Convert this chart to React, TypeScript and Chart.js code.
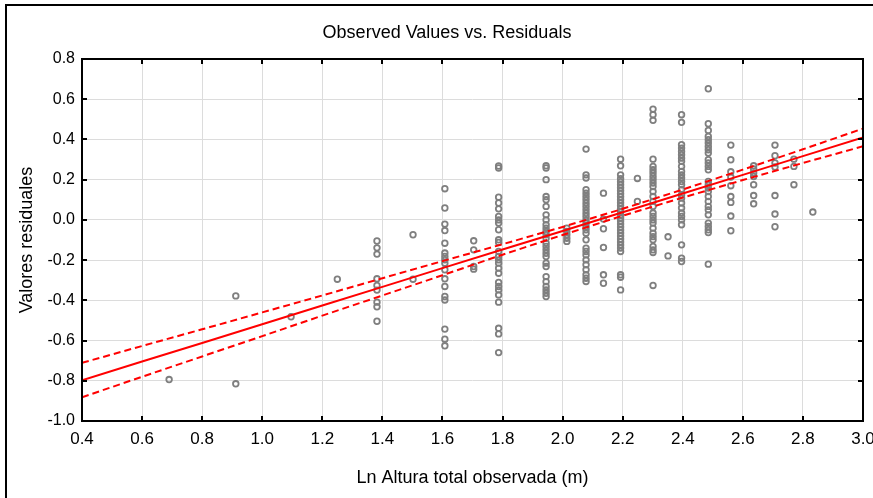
import React, { useEffect, useRef } from "react";
import { Chart, registerables } from "chart.js";

Chart.register(...registerables);

const chartTitle = "Observed Values vs. Residuals";
const xAxisTitle = "Ln Altura total observada (m)";
const yAxisTitle = "Valores residuales";

const xTicks = [0.4, 0.6, 0.8, 1.0, 1.2, 1.4, 1.6, 1.8, 2.0, 2.2, 2.4, 2.6, 2.8, 3.0];
const yTicks = [-1.0, -0.8, -0.6, -0.4, -0.2, 0.0, 0.2, 0.4, 0.6, 0.8];

// observed Ln height groups and their residuals
const columnX = [
  0.69, 0.912, 1.096, 1.25, 1.382, 1.502, 1.608, 1.704, 1.787, 1.945, 2.014, 2.078,
  2.136, 2.193, 2.249, 2.301, 2.351, 2.396, 2.485, 2.56, 2.636, 2.707, 2.77, 2.833,
];
const columnResiduals = [
  [-0.794],
  [-0.378, -0.815],
  [-0.482],
  [-0.295],
  [-0.105, -0.139, -0.17, -0.293, -0.326, -0.349, -0.409, -0.432, -0.504],
  [-0.074, -0.295],
  [0.155, 0.059, -0.021, -0.053, -0.116, -0.165, -0.182, -0.198, -0.215, -0.248, -0.293, -0.331, -0.381, -0.398, -0.543, -0.593, -0.626],
  [-0.104, -0.149, -0.232, -0.245],
  [0.268, 0.258, 0.113, 0.084, 0.055, 0.017, 0.0, -0.016, -0.049, -0.099, -0.112, -0.157, -0.182, -0.199, -0.215, -0.24, -0.265, -0.311, -0.331, -0.348, -0.373, -0.409, -0.539, -0.567, -0.66],
  [0.269, 0.258, 0.2, 0.116, 0.1, 0.067, 0.025, 0.0, -0.024, -0.041, -0.058, -0.074, -0.091, -0.116, -0.132, -0.149, -0.166, -0.182, -0.215, -0.232, -0.282, -0.307, -0.331, -0.348, -0.365, -0.381],
  [-0.041, -0.058, -0.074, -0.091, -0.107],
  [0.352, 0.224, 0.208, 0.15, 0.133, 0.116, 0.1, 0.083, 0.067, 0.05, 0.033, 0.017, 0.0, -0.016, -0.033, -0.049, -0.066, -0.099, -0.141, -0.157, -0.174, -0.199, -0.223, -0.248, -0.273, -0.29, -0.306],
  [0.133, 0.004, -0.044, -0.137, -0.273, -0.315],
  [0.302, 0.269, 0.224, 0.205, 0.19, 0.175, 0.16, 0.145, 0.13, 0.115, 0.1, 0.085, 0.07, 0.055, 0.04, 0.025, 0.01, -0.005, -0.02, -0.035, -0.05, -0.065, -0.08, -0.095, -0.11, -0.125, -0.14, -0.157, -0.273, -0.285, -0.348],
  [0.206, 0.092],
  [0.551, 0.523, 0.495, 0.302, 0.266, 0.249, 0.233, 0.216, 0.2, 0.183, 0.166, 0.141, 0.116, 0.092, 0.067, 0.034, 0.017, 0.0, -0.016, -0.041, -0.066, -0.083, -0.099, -0.132, -0.149, -0.162, -0.326],
  [-0.084, -0.179],
  [0.523, 0.485, 0.374, 0.357, 0.34, 0.324, 0.307, 0.291, 0.266, 0.241, 0.224, 0.208, 0.191, 0.175, 0.15, 0.125, 0.108, 0.084, 0.059, 0.034, 0.017, 0.0, -0.024, -0.124, -0.19, -0.207],
  [0.652, 0.478, 0.445, 0.415, 0.399, 0.382, 0.365, 0.349, 0.332, 0.299, 0.283, 0.266, 0.249, 0.191, 0.175, 0.158, 0.141, 0.116, 0.092, 0.067, 0.05, 0.025, -0.016, -0.033, -0.049, -0.063, -0.22],
  [0.372, 0.299, 0.239, 0.213, 0.17, 0.116, 0.087, 0.019, -0.054],
  [0.269, 0.253, 0.233, 0.216, 0.175, 0.121, 0.08],
  [0.372, 0.319, 0.283, 0.263, 0.121, 0.029, -0.034],
  [0.302, 0.266, 0.175],
  [0.039],
];

// regression line and 95% confidence band, read at the x ticks
const fitX = [0.4, 0.6, 0.8, 1.0, 1.2, 1.4, 1.6, 1.8, 2.0, 2.2, 2.4, 2.6, 2.8, 3.0];
const fitY = [-0.797, -0.704, -0.612, -0.519, -0.426, -0.333, -0.24, -0.147, -0.055, 0.038, 0.131, 0.224, 0.317, 0.41];
const upperY = [-0.711, -0.627, -0.544, -0.46, -0.376, -0.29, -0.205, -0.121, -0.035, 0.055, 0.151, 0.25, 0.351, 0.454];
const lowerY = [-0.882, -0.78, -0.679, -0.578, -0.476, -0.376, -0.275, -0.173, -0.075, 0.021, 0.111, 0.198, 0.283, 0.366];

const FONT = "'Liberation Sans', Arial, sans-serif";

const decorPlugin = {
  id: "decor",
  afterDatasetsDraw(chart: any) {
    const { ctx, chartArea } = chart;
    const { left, right, top, bottom } = chartArea;
    const xs = chart.scales.x;
    const ys = chart.scales.y;
    ctx.save();
    ctx.strokeStyle = "#000";
    ctx.lineWidth = 2;
    ctx.strokeRect(left, top, right - left, bottom - top);
    ctx.beginPath();
    xTicks.forEach((v) => {
      const px = Math.round(xs.getPixelForValue(v));
      ctx.moveTo(px, top);
      ctx.lineTo(px, top + 5);
      ctx.moveTo(px, bottom);
      ctx.lineTo(px, bottom - 5);
    });
    yTicks.forEach((v) => {
      const py = Math.round(ys.getPixelForValue(v));
      ctx.moveTo(left, py);
      ctx.lineTo(left + 5, py);
      ctx.moveTo(right, py);
      ctx.lineTo(right - 5, py);
    });
    ctx.stroke();
    ctx.restore();
  },
  afterDraw(chart: any) {
    const { ctx, chartArea } = chart;
    ctx.save();
    ctx.strokeStyle = "#000";
    ctx.lineWidth = 2;
    ctx.beginPath();
    ctx.moveTo(6, 498);
    ctx.lineTo(6, 5);
    ctx.lineTo(873, 5);
    ctx.stroke();
    ctx.fillStyle = "#000";
    ctx.font = `18px ${FONT}`;
    ctx.textAlign = "center";
    ctx.textBaseline = "middle";
    ctx.fillText(chartTitle, 447, 33);
    ctx.fillText(xAxisTitle, (chartArea.left + chartArea.right) / 2, 478);
    ctx.translate(27, (chartArea.top + chartArea.bottom) / 2);
    ctx.rotate(-Math.PI / 2);
    ctx.fillText(yAxisTitle, 0, 0);
    ctx.restore();
  },
};

export default function App() {
  const ref = useRef<HTMLCanvasElement | null>(null);

  useEffect(() => {
    if (!ref.current) return;
    const points: { x: number; y: number }[] = [];
    columnX.forEach((x, i) => {
      columnResiduals[i].forEach((y) => points.push({ x, y }));
    });
    const fit = fitX.map((x, i) => ({ x, y: fitY[i] }));
    const up = fitX.map((x, i) => ({ x, y: upperY[i] }));
    const lo = fitX.map((x, i) => ({ x, y: lowerY[i] }));

    const lineDs = (data: any, dash: number[]) => ({
      type: "line" as const,
      data,
      borderColor: "#ff0000",
      borderWidth: 2,
      borderDash: dash,
      pointRadius: 0,
      tension: 0,
      fill: false,
      order: 0,
    });

    const chart = new Chart(ref.current, {
      type: "scatter",
      data: {
        datasets: [
          lineDs(fit, []),
          lineDs(up, [7, 4]),
          lineDs(lo, [7, 4]),
          {
            type: "scatter",
            data: points,
            pointStyle: "circle",
            pointRadius: 2.8,
            pointBorderWidth: 1.8,
            pointBorderColor: "#7f7f7f",
            pointBackgroundColor: "rgba(0,0,0,0)",
            borderColor: "#7f7f7f",
            backgroundColor: "rgba(0,0,0,0)",
            order: 1,
          } as any,
        ],
      },
      options: {
        responsive: false,
        animation: false,
        events: [],
        layout: { padding: { left: 0, top: 59, right: 10, bottom: 0 } },
        plugins: {
          legend: { display: false },
          title: { display: false },
          tooltip: { enabled: false },
        },
        scales: {
          x: {
            type: "linear",
            min: 0.4,
            max: 3.0,
            afterBuildTicks: (s: any) => {
              s.ticks = xTicks.map((v) => ({ value: v }));
            },
            afterFit: (s: any) => {
              s.height = 77;
              s.paddingLeft = 0;
              s.paddingRight = 0;
            },
            ticks: {
              autoSkip: false,
              maxRotation: 0,
              padding: 8,
              color: "#000",
              font: { family: FONT, size: 17 },
              callback: (v: any) => Number(v).toFixed(1),
            },
            grid: { color: "#dcdcdc", lineWidth: 1, drawTicks: false },
            border: { display: false },
          },
          y: {
            type: "linear",
            min: -1.0,
            max: 0.8,
            afterBuildTicks: (s: any) => {
              s.ticks = yTicks.map((v) => ({ value: v }));
            },
            afterFit: (s: any) => {
              s.width = 82;
              s.paddingTop = 0;
              s.paddingBottom = 0;
            },
            ticks: {
              autoSkip: false,
              padding: 7,
              color: "#000",
              font: { family: FONT, size: 16 },
              callback: (v: any) => Number(v).toFixed(1),
            },
            grid: { color: "#dcdcdc", lineWidth: 1, drawTicks: false },
            border: { display: false },
          },
        },
      },
      plugins: [decorPlugin],
    });
    return () => chart.destroy();
  }, []);

  return (
    <div style={{ position: "fixed", left: 0, top: 0, width: 873, height: 498, background: "#fff" }}>
      <canvas ref={ref} width={873} height={498} style={{ display: "block" }} />
    </div>
  );
}
